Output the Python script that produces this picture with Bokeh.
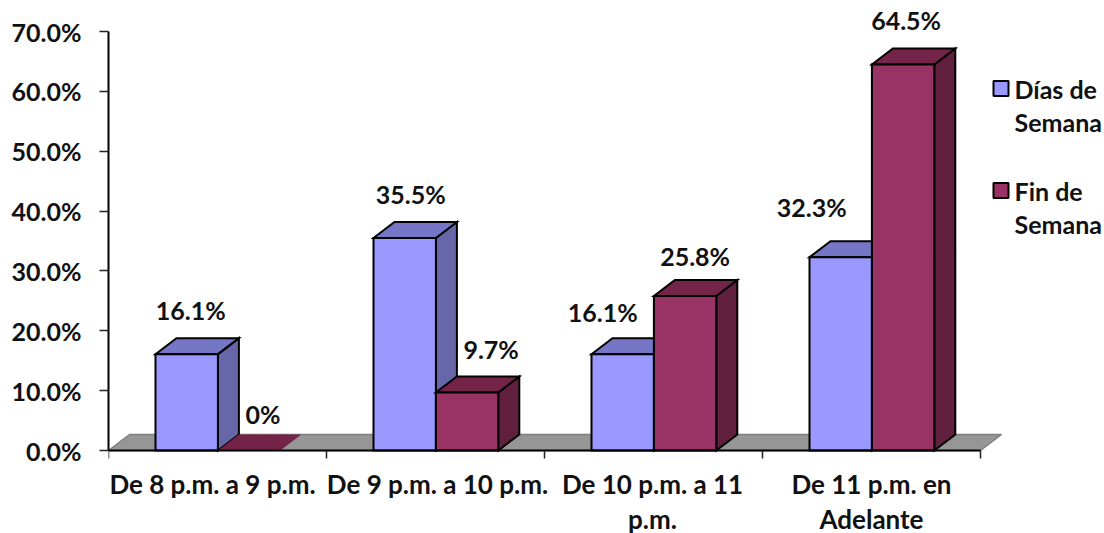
from bokeh.plotting import figure
from bokeh.models import FixedTicker, LabelSet, ColumnDataSource, Label, Range1d
from bokeh.core.properties import value
from bokeh.embed import file_html
from bokeh.resources import INLINE

categories = ["De 8 p.m. a 9 p.m.", "De 9 p.m. a 10 p.m.", "De 10 p.m. a 11\np.m.", "De 11 p.m. en\nAdelante"]
dias_semana = [16.1, 35.5, 16.1, 32.3]
fin_semana = [0.0, 9.7, 25.8, 64.5]
dias_labels = ["16.1%", "35.5%", "16.1%", "32.3%"]
fin_labels = ["0%", "9.7%", "25.8%", "64.5%"]
y_ticks = [0, 10, 20, 30, 40, 50, 60, 70]
y_tick_labels = ["0.0%", "10.0%", "20.0%", "30.0%", "40.0%", "50.0%", "60.0%", "70.0%"]
legend_lines = [["Días de", "Semana"], ["Fin de", "Semana"]]

# layout
W, H = 1104, 533
X0, X1, Y0, Y70 = 108, 980, 450, 31
PX_X = (X1 - X0) / 4
PX_Y = (Y0 - Y70) / 70
def ux(px): return (px - X0) / PX_X
def uy(px): return (Y0 - px) / PX_Y

DX, DY = 21 / PX_X, 16 / PX_Y
BAR_START, BAR_W = 47 / PX_X, 62.4 / PX_X
FONT = "Lato"
SIZE = "25px"
CAT_SIZE = "26px"
TXT = "#111111"

BLUE = ("#9999FF", "#7676C6", "#6666A8")
RED = ("#993366", "#752449", "#62203F")

p = figure(width=W, height=H, output_backend="svg", toolbar_location=None,
           x_range=Range1d(0, ux(W)), y_range=Range1d(uy(H), uy(0)),
           min_border_left=X0, min_border_right=0, min_border_top=0, min_border_bottom=0,
           outline_line_color=None, background_fill_color="white", border_fill_color="white")
p.grid.visible = False

# floor
p.patch([0, 4, 4 + DX, DX], [0, 0, DY, DY], fill_color="#969696", line_color="#7f7f7f", line_width=1.5)

def bar(x, w, v, cols):
    kw = dict(line_color="#000000", line_width=2, line_join="miter")
    if v > 0:
        p.patch([x + w, x + w + DX, x + w + DX, x + w], [0, DY, v + DY, v], fill_color=cols[2], **kw)
        p.patch([x, x + w, x + w + DX, x + DX], [v, v, v + DY, v + DY], fill_color=cols[1], **kw)
        p.patch([x, x + w, x + w, x], [0, 0, v, v], fill_color=cols[0], **kw)
    else:
        p.patch([x, x + w, x + w + DX, x + DX], [v, v, v + DY, v + DY], fill_color=cols[1], line_color=None)

for i, (a, b) in enumerate(zip(dias_semana, fin_semana)):
    bar(i + BAR_START, BAR_W, a, BLUE)
    bar(i + BAR_START + BAR_W, BAR_W, b, RED)

# axes
xa, ya = p.xaxis[0], p.yaxis[0]
xa.fixed_location = 0
xa.ticker = FixedTicker(ticks=[0, 1, 2, 3, 4])
xa.bounds = (0, 4)
xa.major_label_overrides = {t: "" for t in range(5)}
xa.major_tick_out = 8
xa.major_tick_in = 0
xa.minor_tick_line_color = None
xa.axis_line_color = "#000000"
xa.axis_line_width = 2
xa.major_tick_line_color = "#222222"
xa.major_tick_line_width = 1.5

ya.ticker = FixedTicker(ticks=y_ticks)
ya.bounds = (0, 70)
ya.major_label_overrides = {t: s for t, s in zip(y_ticks, y_tick_labels)}
ya.major_label_text_font = FONT
ya.major_label_text_font_style = "bold"
ya.major_label_text_font_size = SIZE
ya.major_label_text_color = TXT
ya.major_label_standoff = 18
ya.major_tick_out = 9
ya.major_tick_in = 0
ya.minor_tick_line_color = None
ya.axis_line_color = "#000000"
ya.axis_line_width = 2
ya.major_tick_line_color = "#222222"
ya.major_tick_line_width = 1.5

# value labels (offset from top-centre of each bar)
dias_off_x, dias_off_y = [4, 6, -20, -29], [44, 44, 42, 50]
fin_off_x, fin_off_y = [14, 24, 10, 3], [37, 43, 40, 44]
xs = [i + BAR_START + BAR_W / 2 for i in range(4)] + [i + BAR_START + 1.5 * BAR_W for i in range(4)]
src = ColumnDataSource(dict(x=xs, y=dias_semana + fin_semana, t=dias_labels + fin_labels,
                            ox=dias_off_x + fin_off_x, oy=dias_off_y + fin_off_y))
p.add_layout(LabelSet(x="x", y="y", text="t", x_offset="ox", y_offset="oy", source=src,
                      text_font=value(FONT), text_font_style="bold", text_font_size=value(SIZE),
                      text_color=TXT, text_align="center", text_baseline="middle"))

lab = dict(text_font=FONT, text_font_style="bold", text_color=TXT, text_baseline="middle")

# category labels
cat_dx = [-5, 2, -1, 0]
for i, c in enumerate(categories):
    for j, line in enumerate(c.split("\n")):
        p.add_layout(Label(x=i + 0.5, y=0, x_offset=cat_dx[i], y_offset=-33 - 35 * j,
                           text=line, text_align="center", text_font_size=CAT_SIZE, **lab))

# legend
for cols, lines, top in zip((BLUE, RED), legend_lines, (88, 190)):
    p.scatter([ux(1000.5)], [uy(top)], marker="square", size=15, fill_color=cols[0],
              line_color="#000000", line_width=2)
    for j, line in enumerate(lines):
        p.add_layout(Label(x=ux(1014), y=uy(top + 33 * j), text=line, text_align="left",
                           text_font_size=SIZE, **lab))

open("out.html", "w").write(file_html(p, INLINE))
